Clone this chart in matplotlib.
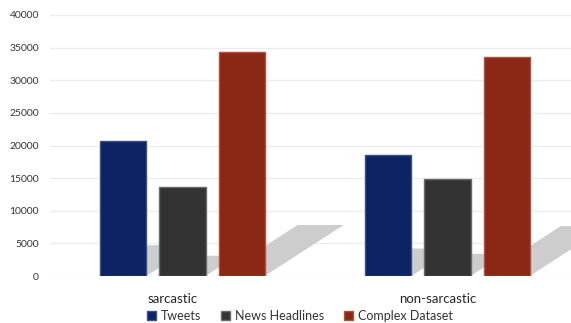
import numpy as np
import matplotlib.pyplot as plt
import matplotlib.transforms as mtransforms
from matplotlib.patches import Polygon, Patch

plt.rcParams['font.family'] = ['Lato', 'DejaVu Sans']

classes = ['sarcastic', 'non-sarcastic']
datasets = ['Tweets', 'News Headlines', 'Complex Dataset']
tweets = [20700, 18500]
headlines = [13600, 14900]
complex_ds = [34300, 33500]
colors = ['#0c2463', '#333333', '#8a2715']
edges = ['#3a4f8a', '#6a6a6a', '#b0503e']

fig = plt.figure(figsize=(5.71, 3.23), dpi=100)
ax = fig.add_axes([50 / 571, 47 / 323, 521 / 571, 261 / 323])

x = np.arange(len(classes))
width = 0.174
step = 0.223

for i, (vals, c, e) in enumerate(zip([tweets, headlines, complex_ds], colors, edges)):
    pos = x + (i - 1) * step
    # floor shadow cast up and to the right of each bar
    for p, v in zip(pos, vals):
        dx = v * 8.7e-6
        dy = v * 0.228
        shadow = Polygon([(p - width / 2, 0), (p + width / 2, 0),
                          (p + width / 2 + dx, dy), (p - width / 2 + dx, dy)],
                         closed=True, facecolor='#cdcdcd', edgecolor='none', zorder=1)
        ax.add_patch(shadow)
    ax.bar(pos, vals, width=width, color=c, edgecolor=e, linewidth=1.0, zorder=2)

ax.set_xlim(-0.5, 1.466)
ax.set_ylim(0, 40000)
ax.set_yticks(np.arange(0, 40001, 5000))
ax.set_xticks(x)
ax.set_xticklabels(classes, fontsize=9.5, color='#262626')
ax.tick_params(axis='y', labelsize=7.5, colors='#333333', length=0, pad=8)
ax.tick_params(axis='x', length=0, pad=12)
# category labels sit a little left of the group centres
shift = mtransforms.ScaledTranslation(-10 / 100, 0, fig.dpi_scale_trans)
for lbl in ax.get_xticklabels():
    lbl.set_transform(lbl.get_transform() + shift)
ax.grid(axis='y', color='#ececec', linewidth=0.9, zorder=0)
ax.set_axisbelow(True)
for s in ax.spines.values():
    s.set_visible(False)

handles = [Patch(facecolor=c, edgecolor=e) for c, e in zip(colors, edges)]
leg = fig.legend(handles, datasets, loc='center', bbox_to_anchor=(300 / 571, 1 - 316 / 323),
                 ncol=3, frameon=False, fontsize=9, handlelength=0.7, handleheight=0.7,
                 handletextpad=0.4, columnspacing=1.6)
for t in leg.get_texts():
    t.set_color('#333333')

fig.savefig('out.png', dpi=100)
